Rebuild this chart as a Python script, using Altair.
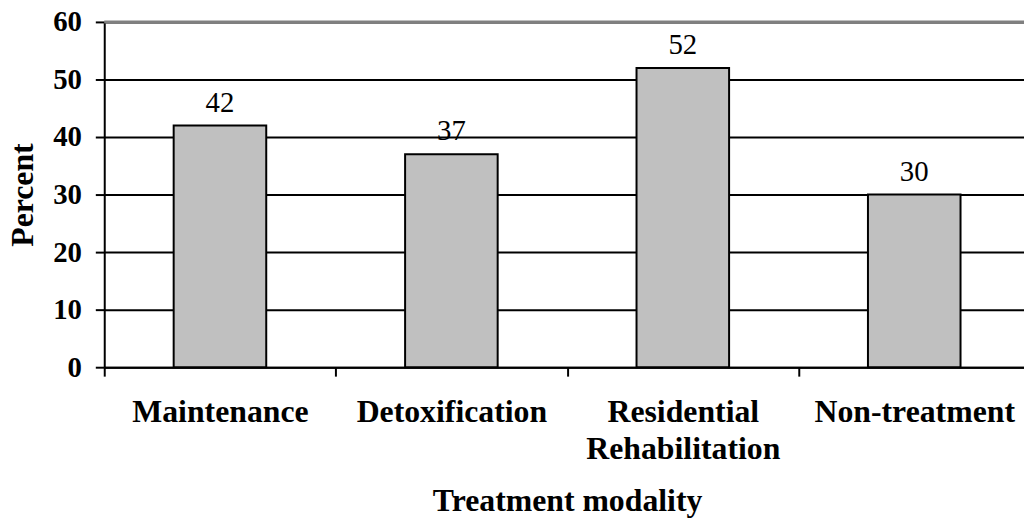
import altair as alt
import pandas as pd

categories = ["Maintenance", "Detoxification", "Residential\nRehabilitation", "Non-treatment"]
percents = [42, 37, 52, 30]
y_ticks = [0, 10, 20, 30, 40, 50, 60]
top_value = [60]

FONT = "Liberation Serif"

df = pd.DataFrame({"modality": categories, "percent": percents})
top_df = pd.DataFrame({"top": top_value})

x_enc = alt.X(
    "modality:N",
    sort=categories,
    scale=alt.Scale(paddingInner=0, paddingOuter=0, range=[0, 933]),
    axis=alt.Axis(
        title="Treatment modality",
        labelExpr="split(datum.label, '\\n')",
        labelAngle=0,
        labelLimit=0,
        labelFont=FONT,
        labelFontSize=32,
        labelFontWeight="bold",
        labelColor="black",
        labelLineHeight=37,
        labelPadding=21,
        tickBand="extent",
        tickSize=9,
        tickWidth=2,
        tickColor="black",
        domainColor="black",
        domainWidth=2,
        grid=False,
        titleFont=FONT,
        titleFontSize=32,
        titleFontWeight="bold",
        titleColor="black",
        titlePadding=21,
    ),
)

y_scale = alt.Scale(domain=[0, 60], nice=False)

y_enc = alt.Y(
    "percent:Q",
    scale=y_scale,
    axis=alt.Axis(
        title="Percent",
        values=y_ticks,
        grid=True,
        gridColor="black",
        gridWidth=2,
        tickSize=9,
        tickWidth=2,
        tickColor="black",
        domainColor="black",
        domainWidth=2,
        labelFont=FONT,
        labelFontSize=29,
        labelFontWeight="bold",
        labelColor="black",
        labelPadding=14,
        titleFont=FONT,
        titleFontSize=32,
        titleFontWeight="bold",
        titleColor="black",
        titlePadding=13,
    ),
)

bars = alt.Chart(df).mark_bar(
    width=alt.RelativeBandSize(0.4),
    color="#c0c0c0",
    stroke="black",
    strokeWidth=2,
).encode(x=x_enc, y=y_enc)

labels = alt.Chart(df).mark_text(
    baseline="bottom",
    dy=-8,
    font=FONT,
    fontSize=29,
    color="black",
).encode(x=alt.X("modality:N", sort=categories), y=alt.Y("percent:Q"), text=alt.Text("percent:Q"))

top_rule = alt.Chart(top_df).mark_rule(color="#808080", strokeWidth=3).encode(
    y=alt.Y("top:Q", scale=y_scale)
)

chart = (
    alt.layer(bars, labels, top_rule)
    .properties(
        width=927,
        height=348,
        autosize=alt.AutoSizeParams(type="none"),
        padding={"left": 97, "top": 12, "right": 0, "bottom": 157},
    )
    .configure_view(stroke=None)
    .configure(background="white")
)

chart.save("out.html", embed_options={"renderer": "svg", "actions": False})
